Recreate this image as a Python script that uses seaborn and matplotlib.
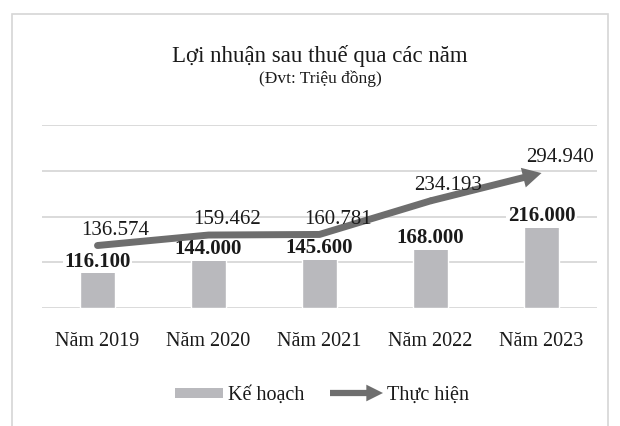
import matplotlib
matplotlib.use("Agg")
import matplotlib.pyplot as plt
from matplotlib.patches import Rectangle, FancyArrowPatch
import seaborn as sns
import pandas as pd

# ---- data ----
categories = ["Năm 2019", "Năm 2020", "Năm 2021", "Năm 2022", "Năm 2023"]
ke_hoach = [116100, 144000, 145600, 168000, 216000]
thuc_hien = [136574, 159462, 160781, 234193, 294940]
title = "Lợi nhuận sau thuế qua các năm"
subtitle = "(Đvt: Triệu đồng)"
legend_labels = ["Kế hoạch", "Thực hiện"]

def fmt(v):
    return f"{v:,}".replace(",", ".")

sns.set_theme(style="white")
plt.rcParams["font.family"] = ["Liberation Serif", "DejaVu Serif"]

BAR_C = "#b9b9bd"
LINE_C = "#6e6e6e"
GRID_C = "#d4d4d4"

fig = plt.figure(figsize=(6.2, 4.26), dpi=100)
fig.patch.set_facecolor("white")
ax = fig.add_axes([42 / 620, 1 - 308 / 426, 555 / 620, 183 / 426])

df = pd.DataFrame({"cat": categories, "plan": ke_hoach, "actual": thuc_hien})

sns.barplot(data=df, x="cat", y="plan", color=BAR_C, width=0.32,
            saturation=1, ax=ax, zorder=2)

ax.set_ylim(0, 400000)
ax.set_yticks([0, 100000, 200000, 300000, 400000])
ax.set_yticklabels([])
ax.yaxis.grid(True, color=GRID_C, linewidth=1.2, zorder=0)
ax.set_axisbelow(True)
for s in ax.spines.values():
    s.set_visible(False)
ax.tick_params(axis="both", length=0)
ax.tick_params(axis="x", pad=17, labelsize=14.5, labelcolor="#1a1a1a")
ax.tick_params(axis="y", pad=0)
ax.set_xlabel("")
ax.set_ylabel("")

# bar labels (inside end, white box)
for i, v in enumerate(ke_hoach):
    ax.annotate(fmt(v), xy=(i, v), xytext=(0, -5), textcoords="offset points",
                ha="center", va="center", fontsize=15, fontweight="bold",
                color="#1a1a1a", zorder=3,
                bbox=dict(boxstyle="square,pad=0.08", fc="white", ec="none"))

# actual line (first segments) + arrow on the last segment
sns.lineplot(x=list(range(len(categories) - 1)), y=thuc_hien[:-1], ax=ax,
             color=LINE_C, linewidth=5, zorder=5, sort=False,
             solid_capstyle="round", solid_joinstyle="round")
arr = FancyArrowPatch((len(categories) - 2, thuc_hien[-2]),
                      (len(categories) - 1, thuc_hien[-1]),
                      arrowstyle="simple,head_length=1.35,head_width=1.45,tail_width=0.5",
                      mutation_scale=10, color=LINE_C, lw=0, zorder=5,
                      shrinkA=0, shrinkB=0)
ax.add_patch(arr)

for i, v in enumerate(thuc_hien):
    ax.annotate(fmt(v), xy=(i, v), xytext=(13, 11), textcoords="offset points",
                ha="center", va="center", fontsize=15, color="#1a1a1a", zorder=6)

ax.set_xlim(-0.5, len(categories) - 0.5)

# titles
fig.text(320 / 620, 1 - 62 / 426, title, ha="center", va="baseline",
         fontsize=16.5, color="#1a1a1a")
fig.text(320 / 620, 1 - 83 / 426, subtitle, ha="center", va="baseline",
         fontsize=12.5, color="#1a1a1a")

# legend (manual)
fig.patches.append(Rectangle((175 / 620, 1 - 398 / 426), 48 / 620, 10 / 426,
                             transform=fig.transFigure, fc=BAR_C, ec="none"))
fig.text(228 / 620, 1 - 400 / 426, legend_labels[0], ha="left", va="baseline",
         fontsize=14.5, color="#1a1a1a")
fig.patches.append(FancyArrowPatch((330 / 620, 1 - 393 / 426), (383 / 620, 1 - 393 / 426),
                                   transform=fig.transFigure,
                                   arrowstyle="simple,head_length=1.2,head_width=1.2,tail_width=0.45",
                                   mutation_scale=10, color=LINE_C, lw=0,
                                   shrinkA=0, shrinkB=0))
fig.text(387 / 620, 1 - 400 / 426, legend_labels[1], ha="left", va="baseline",
         fontsize=14.5, color="#1a1a1a")

# outer frame
fig.patches.append(Rectangle((12 / 620, -0.02), (608 - 12) / 620, (426 - 14) / 426 + 0.02,
                             transform=fig.transFigure, fill=False,
                             ec="#d6d6d6", lw=1.2))

fig.savefig("out.png", dpi=100, facecolor="white")
